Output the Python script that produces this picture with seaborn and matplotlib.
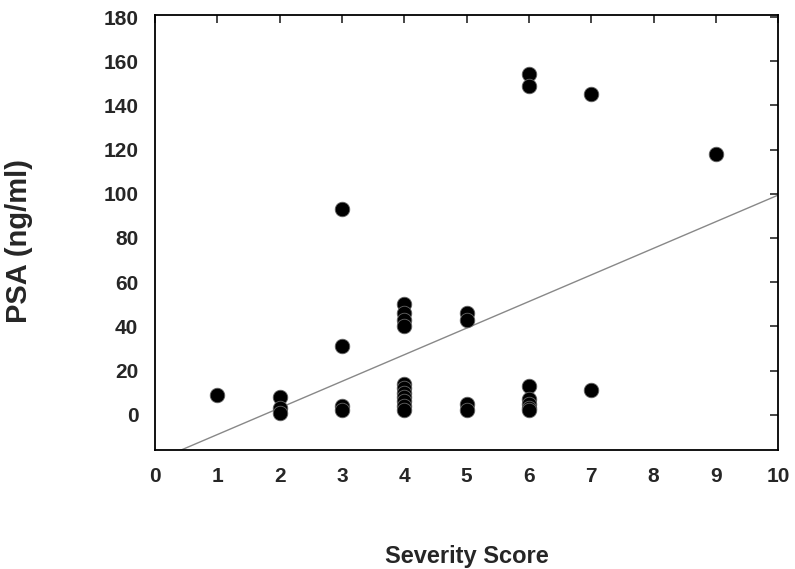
import matplotlib
matplotlib.use("Agg")
import matplotlib.pyplot as plt
import seaborn as sns
import numpy as np
import pandas as pd

severity = [1, 2, 2, 2, 3, 3, 3, 3,
            4, 4, 4, 4, 4, 4, 4, 4, 4, 4, 4,
            5, 5, 5, 5,
            6, 6, 6, 6, 6, 6, 6,
            7, 7, 9]
psa = [9, 8, 3, 1, 93, 31, 4, 2,
       50, 46, 43, 40, 14, 12, 10, 8, 6, 4, 2,
       46, 43, 5, 2,
       154, 149, 13, 7, 5, 3, 2,
       145, 11, 118]
x_ticks = list(range(0, 11))
y_ticks = list(range(0, 181, 20))

df = pd.DataFrame({"Severity": severity, "PSA": psa})

sns.set_style("white")
plt.rcParams['font.family'] = ['Liberation Sans', 'DejaVu Sans']

fig = plt.figure(figsize=(7.95, 5.69), dpi=100)
ax = fig.add_axes([0.195, 0.209, 0.784, 0.765])

sns.scatterplot(data=df, x="Severity", y="PSA", ax=ax, color="black",
                s=110, edgecolor="#666666", linewidth=0.6, zorder=3)
ax.set_xlim(0, 10)
ax.set_ylim(-16, 181)
sns.regplot(data=df, x="Severity", y="PSA", ax=ax, ci=None, scatter=False,
            truncate=False, line_kws=dict(color="#888888", lw=1.0, zorder=2))
ax.set_xlim(0, 10)
ax.set_ylim(-16, 181)
ax.set_xticks(x_ticks)
ax.set_yticks(y_ticks)
ax.tick_params(direction="in", length=6, width=1.2, top=True, right=True,
               labelsize=15, pad=12)
for lab in ax.get_xticklabels() + ax.get_yticklabels():
    lab.set_fontweight("bold")
for s in ax.spines.values():
    s.set_color("black")
    s.set_linewidth(1.3)

ax.set_xlabel("Severity Score", fontsize=17, fontweight="bold", labelpad=43)
ax.set_ylabel("PSA (ng/ml)", fontsize=21, fontweight="bold")
ax.yaxis.set_label_coords(-0.196, 0.48)

fig.savefig("out.png", dpi=100)
